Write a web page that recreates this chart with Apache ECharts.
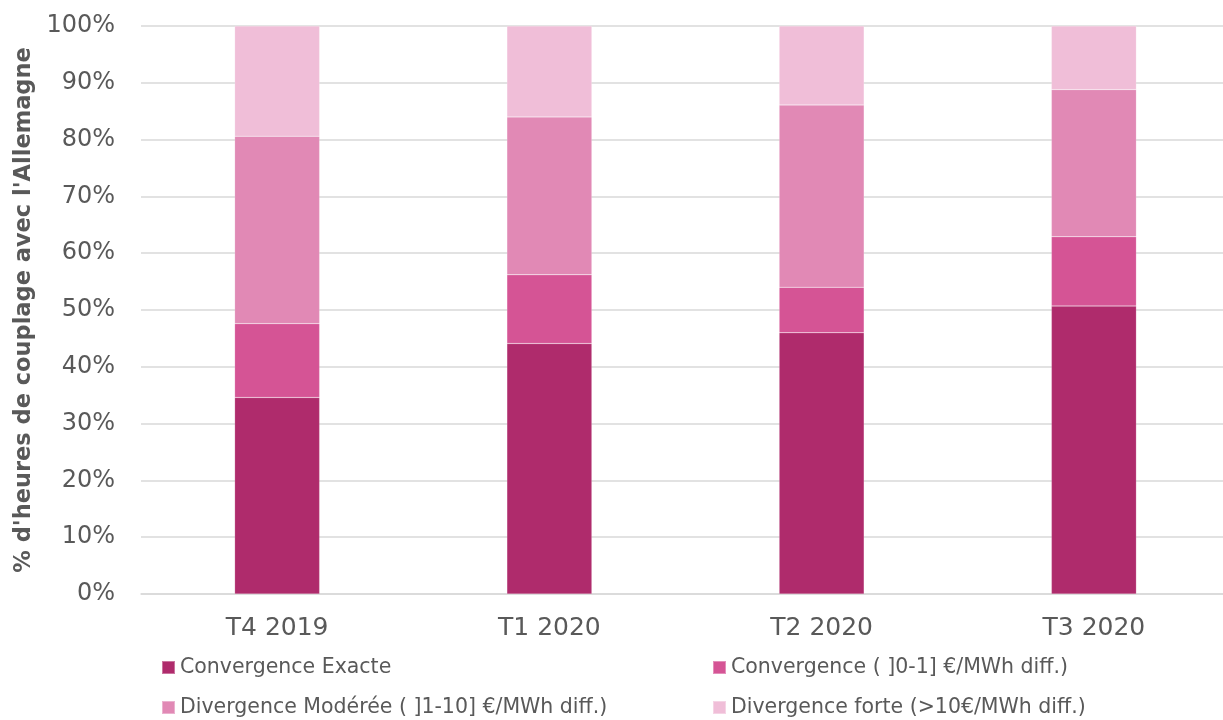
<!DOCTYPE html>
<html>
<head>
<meta charset="utf-8">
<script src="https://cdn.jsdelivr.net/npm/echarts@6/dist/echarts.min.js"></script>
<style>html,body{margin:0;padding:0;background:#fff;overflow:hidden;}#c{width:1230px;height:720px;}</style>
</head>
<body>
<div id="c"></div>
<script>
const categories = ['T4 2019', 'T1 2020', 'T2 2020', 'T3 2020'];
const seriesNames = ['Convergence Exacte', 'Convergence ( ]0-1] €/MWh diff.)', 'Divergence Modérée ( ]1-10] €/MWh diff.)', 'Divergence forte (>10€/MWh diff.)'];
const convExacte = [34.6, 44.1, 46.0, 50.7];
const convFaible = [13.0, 12.1, 8.0, 12.2];
const divModeree = [33.0, 27.8, 32.1, 25.9];
const divForte = [19.4, 16.0, 13.9, 11.2];
const yTicks = [0, 10, 20, 30, 40, 50, 60, 70, 80, 90, 100];
const colors = ['#AF2B6C', '#D55495', '#E189B5', '#F0BED8'];

const font = 'DejaVu Sans';
const chart = echarts.init(document.getElementById('c'));
const values = [convExacte, convFaible, divModeree, divForte];
const legendText = {fontFamily: font, fontSize: 20.5, color: '#595959'};
const legendPos = [[161, 657], [712, 657], [161, 697], [712, 697]];
chart.setOption({
  animation: false,
  grid: {left: 141, top: 26, right: 0, height: 568, containLabel: false},
  legend: seriesNames.map((n, i) => ({
    left: legendPos[i][0], top: legendPos[i][1], padding: 0, icon: 'rect', itemWidth: 13, itemHeight: 13,
    textStyle: legendText, data: [n]
  })),
  xAxis: {
    type: 'category', data: categories,
    axisLine: {show: true, lineStyle: {color: '#d9d9d9', width: 1.5}},
    axisTick: {show: false},
    axisLabel: {fontFamily: font, fontSize: 25, color: '#595959', margin: 22}
  },
  yAxis: {
    type: 'value', min: yTicks[0], max: yTicks[yTicks.length - 1], interval: 10,
    name: "% d'heures de couplage avec l'Allemagne",
    nameLocation: 'middle', nameGap: 104,
    nameTextStyle: {fontFamily: font, fontSize: 22.5, fontWeight: 'bold', color: '#595959'},
    axisLine: {show: false}, axisTick: {show: false},
    splitLine: {lineStyle: {color: '#d9d9d9', width: 1.5}},
    axisLabel: {fontFamily: font, fontSize: 24, color: '#595959', margin: 26, formatter: v => v + '%'}
  },
  series: values.map((d, i) => ({
    name: seriesNames[i], type: 'bar', stack: 'total', data: d, barWidth: 85,
    itemStyle: {color: colors[i], borderColor: 'rgba(255,255,255,0.35)', borderWidth: 0.5}
  }))
});
</script>
</body>
</html>
